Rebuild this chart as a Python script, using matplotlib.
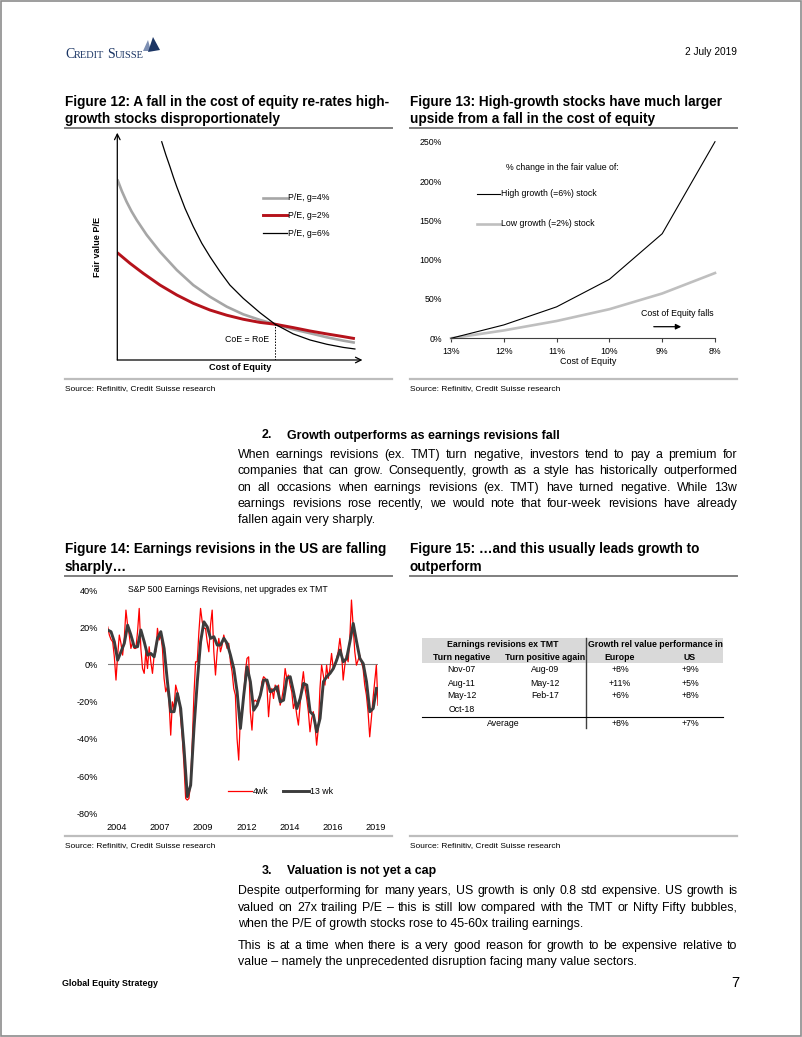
import matplotlib
matplotlib.use('Agg')
import matplotlib.pyplot as plt
import numpy as np
from matplotlib.lines import Line2D
from matplotlib.patches import Rectangle, Polygon, FancyArrowPatch

# ---------------- DATA ----------------
# Figure 12 (conceptual curves, arbitrary units: cost of equity 0-100, fair value P/E 0-100)
pe_g4_x = [0, 1.9, 3.8, 5.9, 8.0, 12.1, 17.6, 24.5, 31.3, 38.2, 45.1, 51.9, 58.8, 65.0, 72.5, 79.4, 86.3, 93.1, 97.9]
pe_g4_y = [80.3, 75.0, 70.4, 66.0, 62.2, 55.6, 48.1, 40.0, 33.3, 28.1, 23.7, 20.3, 17.8, 15.9, 13.6, 11.9, 10.1, 8.6, 7.7]
pe_g2_x = [0, 5.2, 10.7, 17.6, 24.5, 31.3, 38.2, 45.1, 51.9, 58.8, 65.0, 72.5, 79.4, 86.3, 93.1, 97.9]
pe_g2_y = [47.7, 43.0, 38.5, 33.3, 28.9, 25.2, 22.2, 19.9, 18.1, 16.7, 15.9, 14.4, 12.9, 11.6, 10.4, 9.5]
pe_g6_x = [18.3, 20.0, 21.7, 23.1, 24.5, 27.9, 31.3, 34.8, 38.2, 42.3, 46.4, 51.9, 58.8, 65.0, 72.5, 79.4, 86.3, 93.1, 97.9]
pe_g6_y = [97.0, 91.2, 85.9, 81.3, 77.0, 67.4, 59.3, 51.9, 45.9, 39.3, 33.3, 27.4, 21.0, 15.9, 11.6, 8.9, 7.0, 5.6, 4.9]
coe_eq_roe = (65.0, 15.9)

# Figure 13
coe_labels = ['13%', '12%', '11%', '10%', '9%', '8%']
high_growth = [0, 17, 40, 75, 133, 250]
low_growth = [0, 10, 22, 37, 57, 83]

# Figure 14: S&P 500 earnings revisions (%), evenly spaced from early 2004
rev_start = 2004.0
rev_4wk_step = 0.0953
rev_4wk = [20.2, 15.8, 13.4, 12.2, 4.1, -8.4, 5.0, 15.8, 11.3, 5.0, 14.0, 29.2, 21.1, 15.8, 8.6, 12.2,
           8.6, 8.6, 17.6, 30.1, 8.6, -2.2, -4.8, 6.8, -2.2, 9.5, 1.4, -4.8, 5.0, 6.8, 19.4, 13.1,
           15.8, 8.6, -7.5, -14.7, -12.0, -20.1, -38.0, -20.1, -23.7, -11.1, -14.7, -18.3, -29.0, -39.8,
           -54.1, -72.0, -72.9, -72.0, -63.1, -41.6, -16.5, 1.4, 1.4, 17.6, 30.1, 22.9, 19.4, 19.4,
           12.2, 6.8, 21.1, 29.2, 6.8, -5.7, 6.8, 14.0, 6.8, 10.4, 15.8, 12.2, 8.6, 11.3, 1.4, -3.9,
           -12.9, -16.5, -39.8, -51.4, -28.1, -27.2, -16.5, -3.9, 3.2, 4.1,
           -25.4, -35.3, -20.1, -19.2, -20.1, -18.3, -16.5, -9.3, -6.6, -7.5, -11.1, -28.1, -16.5,
           -12.9, -18.3, -11.1, -14.7, -11.1, -21.9, -18.3, -12.9, -2.2, -7.5, -5.7, -11.1, -14.7,
           -23.7, -20.1, -27.2, -32.6, -21.9, -11.1, -3.9, -12.9, -18.3, -25.4, -36.2, -29.0, -25.4,
           -32.6, -43.4, -34.4, -12.9, -0.4, -5.7, -11.1, -0.4, -7.5, -2.2, 5.9, -2.2, -0.4, 3.2,
           6.8, 14.0, 6.8, -8.4, -0.4, 5.0, 1.4, 14.0, 34.6, 21.1, 6.8, -0.4, 2.3, 5.0, 1.4, -2.2,
           -11.1, -16.5, -25.4, -38.9, -29.0, -18.3, -9.3, -0.4, -21.9]
rev_13wk_step = 0.1907
rev_13wk = [18.5, 17.6, 12.2, 2.3, 6.8, 11.3, 21.1, 15.8, 9.5, 9.5, 18.5, 12.2, 5.0, 5.9, 4.1, 14.0,
            17.6, 8.6, -9.3, -25.4, -25.4, -15.6, -23.7, -45.2, -71.1, -64.9, -34.4, -9.3, 12.2, 22.9,
            20.2, 14.0, 14.9, 10.4, 10.4, 14.0, 11.3, 5.0, -2.2, -14.7, -34.4, -16.5, -1.3,
            -9.3, -24.6, -21.9, -16.5, -8.4, -8.4, -14.7, -13.8, -12.0, -20.1, -19.2, -7.5, -6.6,
            -14.7, -23.7, -18.3, -10.2, -11.1, -25.4, -27.2, -36.2, -29.0, -9.3, -6.6, -4.8, -2.2,
            2.3, 7.7, 1.4, 3.2, 12.2, 22.0, 12.2, 3.2, 0.5, -9.3, -25.4, -23.7, -12.9]
year_labels = ['2004', '2007', '2009', '2012', '2014', '2016', '2019']

# Figure 15 table
tbl_neg = ['Nov-07', 'Aug-11', 'May-12', 'Oct-18']
tbl_pos = ['Aug-09', 'May-12', 'Feb-17', '']
tbl_eu = ['+8%', '+11%', '+6%', '']
tbl_us = ['+9%', '+5%', '+8%', '']
tbl_avg = ['+8%', '+7%']

# ---------------- LAYOUT HELPERS ----------------
W, H = 802, 1037
fig = plt.figure(figsize=(W / 100, H / 100), dpi=100)
fig.patch.set_facecolor('white')
R = fig.canvas.get_renderer()

NARROW = ['Liberation Sans Narrow', 'Liberation Sans', 'DejaVu Sans']
SANS = ['Liberation Sans', 'DejaVu Sans']
SERIF = ['Liberation Serif', 'DejaVu Serif']
CS = 6.3   # chart text size


def fx(x):
    return x / W


def fy(y):
    return 1 - y / H


def txt(x, y, s, size=CS, fam=NARROW, **kw):
    return fig.text(fx(x), fy(y), s, fontsize=size, family=fam, **kw)


def hl(x0, x1, y, c='k', lw=1.0, **kw):
    fig.add_artist(Line2D([fx(x0), fx(x1)], [fy(y), fy(y)], color=c, lw=lw, **kw))


def vl(x, y0, y1, c='k', lw=1.0, **kw):
    fig.add_artist(Line2D([fx(x), fx(x)], [fy(y0), fy(y1)], color=c, lw=lw, **kw))


def ax_px(l, t, r, b):
    return fig.add_axes([fx(l), fy(b), (r - l) / W, (b - t) / H])


def width_of(s, size, fam, weight='normal'):
    t = fig.text(0, 0, s, fontsize=size, family=fam, weight=weight)
    w = t.get_window_extent(R).width
    t.remove()
    return w


def justify(line, yb, x0=238, x1=737, size=8.9, just=True):
    if not just:
        txt(x0, yb, line, size=size, fam=SANS, va='baseline', ha='left')
        return
    words = line.split(' ')
    ws = [width_of(w, size, SANS) for w in words]
    gap = (x1 - x0 - sum(ws)) / (len(words) - 1)
    x = x0
    for w, wd in zip(words, ws):
        txt(x, yb, w, size=size, fam=SANS, va='baseline', ha='left')
        x += wd + gap


# page border
fig.add_artist(Rectangle((fx(1), fy(1036)), 800 / W, 1035 / H, transform=fig.transFigure,
                         fill=False, edgecolor='#8c8c8c', lw=1.2))

# ---------------- HEADER ----------------
navy = '#1b3564'
x = 65
for piece, sz in [('C', 10.0), ('REDIT', 7.5), (' ', 7.0), ('S', 10.0), ('UISSE', 7.5)]:
    txt(x, 58, piece, size=sz, fam=SERIF, color=navy, va='baseline')
    x += width_of(piece, sz, SERIF)
fig.add_artist(Polygon([(fx(143), fy(51)), (fx(148), fy(40)), (fx(151), fy(51))], closed=True,
                       transform=fig.transFigure, facecolor='#7d8fb3', edgecolor='none'))
fig.add_artist(Polygon([(fx(148), fy(52)), (fx(153), fy(37)), (fx(160), fy(50))], closed=True,
                       transform=fig.transFigure, facecolor=navy, edgecolor='none'))
txt(737, 52, '2 July 2019', size=7.3, fam=SANS, ha='right', va='center')

# ---------------- TITLES ----------------
TS = 9.85
txt(65, 106, 'Figure 12: A fall in the cost of equity re-rates high-', size=TS, weight='bold', va='baseline')
txt(65, 123, 'growth stocks disproportionately', size=TS, weight='bold', va='baseline')
txt(410, 106, 'Figure 13: High-growth stocks have much larger', size=TS, weight='bold', va='baseline')
txt(410, 123, 'upside from a fall in the cost of equity', size=TS, weight='bold', va='baseline')
hl(65, 392, 127.5, c='#7f7f7f', lw=1.4)
hl(410, 737, 127.5, c='#7f7f7f', lw=1.4)

txt(65, 553, 'Figure 14: Earnings revisions in the US are falling', size=TS, weight='bold', va='baseline')
txt(65, 571, 'sharply\u2026', size=TS, weight='bold', va='baseline')
txt(410, 553, 'Figure 15: \u2026and this usually leads growth to', size=TS, weight='bold', va='baseline')
txt(410, 571, 'outperform', size=TS, weight='bold', va='baseline')
hl(65, 392, 575.5, c='#7f7f7f', lw=1.4)
hl(410, 737, 575.5, c='#7f7f7f', lw=1.4)

# sources
for (x0, x1, yl) in [(65, 392, 378.5), (410, 737, 378.5), (65, 392, 836), (410, 737, 836)]:
    hl(x0, x1, yl, c='#bdbdbd', lw=1.6)
    txt(x0, yl + 11.5, 'Source: Refinitiv, Credit Suisse research', size=6.0, fam=SANS, va='baseline')

# ---------------- FIGURE 12 ----------------
ax1 = ax_px(117.3, 135, 360, 360)
ax1.set_xlim(0, 100)
ax1.set_ylim(0, 100)
ax1.axis('off')
ax1.plot(pe_g4_x, pe_g4_y, color='#a6a6a6', lw=1.9, solid_capstyle='butt', solid_joinstyle='round')
ax1.plot(pe_g2_x, pe_g2_y, color='#b5121b', lw=2.1, solid_capstyle='butt', solid_joinstyle='round')
ax1.plot(pe_g6_x, pe_g6_y, color='black', lw=0.9)
ax1.plot([coe_eq_roe[0]] * 2, [0, coe_eq_roe[1]], color='black', lw=0.7, ls=(0, (1.5, 1.5)))
for end in [(0, 101), (101, 0)]:
    ax1.annotate('', xy=end, xytext=(0, 0), xycoords='data', annotation_clip=False,
                 arrowprops=dict(arrowstyle='->', lw=0.9, color='black', shrinkA=0, shrinkB=0,
                                 mutation_scale=10))
for (yy, c, lw, lab) in [(198, '#a6a6a6', 1.9, 'P/E, g=4%'), (215, '#b5121b', 2.1, 'P/E, g=2%'),
                         (233, 'black', 0.9, 'P/E, g=6%')]:
    hl(263, 287, yy, c=c, lw=lw)
    txt(288, yy, lab, va='center')
txt(247, 339, 'CoE = RoE', ha='center', va='center')
txt(240, 367.5, 'Cost of Equity', size=6.6, weight='bold', ha='center', va='center')
txt(97, 247, 'Fair value P/E', size=6.6, weight='bold', ha='center', va='center', rotation=90)

# ---------------- FIGURE 13 ----------------
ax2 = ax_px(451, 141.7, 715, 338.3)
xpos = np.arange(len(coe_labels))
ax2.plot(xpos, low_growth, color='#bfbfbf', lw=1.9, clip_on=False)
ax2.plot(xpos, high_growth, color='black', lw=0.8, clip_on=False)
ax2.set_xlim(0, len(coe_labels) - 1)
ax2.set_ylim(0, 250)
ax2.set_xticks(xpos)
ax2.set_xticklabels(coe_labels)
ax2.set_yticks(np.arange(0, 251, 50))
ax2.set_yticklabels([f'{v}%' for v in range(0, 251, 50)])
for s in ['top', 'right', 'left']:
    ax2.spines[s].set_visible(False)
ax2.spines['bottom'].set_color('#404040')
ax2.spines['bottom'].set_linewidth(0.8)
ax2.tick_params(axis='x', direction='out', length=3, width=0.8, color='#404040', labelsize=CS, pad=3)
ax2.tick_params(axis='y', length=0, labelsize=CS, pad=6.5)
for lab in ax2.get_xticklabels() + ax2.get_yticklabels():
    lab.set_family(NARROW)
txt(562, 167, '% change in the fair value of:', ha='center', va='center')
hl(477, 500, 194, c='black', lw=0.8)
txt(501, 194, 'High growth (=6%) stock', va='center')
hl(477, 500, 224, c='#bfbfbf', lw=1.9)
txt(501, 224, 'Low growth (=2%) stock', va='center')
txt(677, 314, 'Cost of Equity falls', ha='center', va='center')
fig.add_artist(FancyArrowPatch((fx(651), fy(326.7)), (fx(684), fy(326.7)),
               transform=fig.transFigure, arrowstyle='-|>', mutation_scale=8, lw=0.9, color='black'))
txt(588, 361, 'Cost of Equity', size=6.5, ha='center', va='center')

# ---------------- FIGURE 14 ----------------
ax3 = ax_px(107.7, 590, 378, 813.3)
t4 = rev_start + rev_4wk_step * np.arange(len(rev_4wk))
t13 = rev_start + rev_13wk_step * np.arange(len(rev_13wk))
ax3.axhline(0, color='#808080', lw=0.8)
ax3.plot(t4, rev_4wk, color='#ff0000', lw=0.9)
ax3.plot(t13, rev_13wk, color='#3c3c3c', lw=2.1, solid_joinstyle='round')
ax3.set_xlim(rev_start, t4[-1])
ax3.set_ylim(-80, 40)
ax3.set_yticks(np.arange(-80, 41, 20))
ax3.set_yticklabels([f'{v}%' for v in range(-80, 41, 20)])
xt = np.linspace(2004.52, 2019.42, len(year_labels))
ax3.set_xticks(xt)
ax3.set_xticklabels(year_labels)
for s in ax3.spines.values():
    s.set_visible(False)
ax3.tick_params(axis='both', length=0, labelsize=6.6)
ax3.tick_params(axis='y', pad=7)
ax3.tick_params(axis='x', pad=7)
for lab in ax3.get_xticklabels() + ax3.get_yticklabels():
    lab.set_family(NARROW)
txt(228.3, 590, 'S&P 500 Earnings Revisions, net upgrades ex TMT', ha='center', va='center')
hl(228, 252, 791, c='#ff0000', lw=0.9)
txt(253, 791, '4wk', va='center')
hl(283, 309, 791, c='#3c3c3c', lw=2.1)
txt(310, 791, '13 wk', va='center')

# ---------------- FIGURE 15 TABLE ----------------
fig.add_artist(Rectangle((fx(421.7), fy(663)), (723.3 - 421.7) / W, 25 / H, transform=fig.transFigure,
                         facecolor='#d9d9d9', edgecolor='none'))
vl(585.7, 638, 728, c='#404040', lw=1.0)
hl(421.7, 723.3, 716.7, c='black', lw=0.8)
TB = 6.3
txt(503, 644.5, 'Earnings revisions ex TMT', size=TB, weight='bold', ha='center', va='center')
txt(655, 644.5, 'Growth rel value performance in', size=TB, weight='bold', ha='center', va='center')
for (xc, lab) in [(461.7, 'Turn negative'), (545, 'Turn positive again'), (620, 'Europe'), (690, 'US')]:
    txt(xc, 657.5, lab, size=TB, weight='bold', ha='center', va='center')
row_y = [670, 683, 696, 709.3]
for i, yy in enumerate(row_y):
    txt(461.7, yy, tbl_neg[i], size=TB, ha='center', va='center')
    txt(545, yy, tbl_pos[i], size=TB, ha='center', va='center')
    txt(620, yy, tbl_eu[i], size=TB, ha='center', va='center')
    txt(690, yy, tbl_us[i], size=TB, ha='center', va='center')
txt(503, 723.3, 'Average', size=TB, ha='center', va='center')
txt(620, 723.3, tbl_avg[0], size=TB, ha='center', va='center')
txt(690, 723.3, tbl_avg[1], size=TB, ha='center', va='center')

# ---------------- BODY TEXT ----------------
BS = 8.9
txt(261.7, 438.5, '2.', size=BS, fam=SANS, weight='bold', va='baseline')
txt(286.7, 438.5, 'Growth outperforms as earnings revisions fall', size=BS, fam=SANS, weight='bold', va='baseline')
para2 = ['When earnings revisions (ex. TMT) turn negative, investors tend to pay a premium for',
         'companies that can grow. Consequently, growth as a style has historically outperformed',
         'on all occasions when earnings revisions (ex. TMT) have turned negative. While 13w',
         'earnings revisions rose recently, we would note that four-week revisions have already',
         'fallen again very sharply.']
for i, (line, yb) in enumerate(zip(para2, [458.2, 474.4, 490.6, 506.8, 523.0])):
    justify(line, yb, size=BS, just=(i < len(para2) - 1))

txt(261.7, 873.7, '3.', size=BS, fam=SANS, weight='bold', va='baseline')
txt(286.7, 873.7, 'Valuation is not yet a cap', size=BS, fam=SANS, weight='bold', va='baseline')
para3 = [('Despite outperforming for many years, US growth is only 0.8 std expensive. US growth is', True),
         ('valued on 27x trailing P/E \u2013 this is still low compared with the TMT or Nifty Fifty bubbles,', True),
         ('when the P/E of growth stocks rose to 45-60x trailing earnings.', False)]
for (line, j), yb in zip(para3, [894.2, 910.7, 927.2]):
    justify(line, yb, size=BS, just=j)
para4 = [('This is at a time when there is a very good reason for growth to be expensive relative to', True),
         ('value \u2013 namely the unprecedented disruption facing many value sectors.', False)]
for (line, j), yb in zip(para4, [949.2, 965.2]):
    justify(line, yb, size=BS, just=j)

# ---------------- FOOTER ----------------
txt(62, 984, 'Global Equity Strategy', size=6.4, weight='bold', va='center')
txt(739, 983, '7', size=10.5, fam=SANS, ha='right', va='center')

fig.savefig('out.png', dpi=100, facecolor='white')
